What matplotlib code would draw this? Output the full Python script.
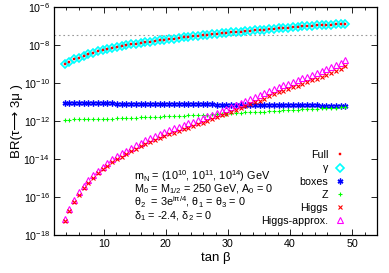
import numpy as np
import matplotlib
matplotlib.use("Agg")
import matplotlib.pyplot as plt
from matplotlib.ticker import FixedLocator, MultipleLocator, NullLocator

plt.rcParams['font.family'] = ['Liberation Sans', 'DejaVu Sans']
plt.rcParams['mathtext.default'] = 'regular'

# tan beta grid (60 points)
tan_beta = np.linspace(3.7, 48.9, 60)

# log10 of BR values
log_full = [-9.00, -8.88, -8.76, -8.66, -8.57, -8.48, -8.41, -8.34, -8.28, -8.22,
            -8.17, -8.12, -8.07, -8.02, -7.97, -7.93, -7.89, -7.86, -7.82, -7.79,
            -7.75, -7.72, -7.69, -7.66, -7.63, -7.60, -7.57, -7.54, -7.51, -7.48,
            -7.46, -7.43, -7.41, -7.38, -7.36, -7.33, -7.31, -7.29, -7.27, -7.25,
            -7.23, -7.21, -7.19, -7.17, -7.14, -7.12, -7.10, -7.08, -7.06, -7.04,
            -7.02, -7.00, -6.99, -6.97, -6.96, -6.94, -6.93, -6.91, -6.90, -6.88]
# photon penguin sits on top of the full result
log_gamma = list(log_full)
log_boxes = [-11.04, -11.04, -11.05, -11.05, -11.05, -11.06, -11.06, -11.06, -11.07, -11.07,
             -11.07, -11.08, -11.08, -11.08, -11.09, -11.09, -11.09, -11.10, -11.10, -11.10,
             -11.10, -11.11, -11.11, -11.11, -11.12, -11.12, -11.12, -11.12, -11.13, -11.13,
             -11.13, -11.13, -11.14, -11.14, -11.14, -11.14, -11.15, -11.15, -11.15, -11.15,
             -11.16, -11.16, -11.16, -11.16, -11.17, -11.17, -11.17, -11.17, -11.17, -11.18,
             -11.18, -11.18, -11.18, -11.18, -11.19, -11.19, -11.19, -11.19, -11.19, -11.20]
log_z = [-11.93, -11.93, -11.92, -11.92, -11.91, -11.91, -11.90, -11.89, -11.89, -11.88,
         -11.87, -11.86, -11.85, -11.84, -11.83, -11.82, -11.81, -11.80, -11.79, -11.78,
         -11.77, -11.76, -11.75, -11.74, -11.73, -11.72, -11.71, -11.70, -11.69, -11.67,
         -11.66, -11.65, -11.64, -11.62, -11.61, -11.60, -11.58, -11.57, -11.55, -11.54,
         -11.53, -11.51, -11.50, -11.49, -11.47, -11.46, -11.44, -11.43, -11.42, -11.40,
         -11.39, -11.38, -11.36, -11.35, -11.34, -11.32, -11.31, -11.30, -11.28, -11.27]
log_higgs = [-17.27, -16.73, -16.27, -15.87, -15.54, -15.24, -14.98, -14.75, -14.54, -14.36,
             -14.18, -14.00, -13.87, -13.73, -13.60, -13.46, -13.33, -13.21, -13.09, -12.99,
             -12.89, -12.79, -12.70, -12.61, -12.53, -12.44, -12.35, -12.27, -12.18, -12.09,
             -11.99, -11.91, -11.81, -11.71, -11.62, -11.52, -11.42, -11.32, -11.23, -11.12,
             -11.02, -10.93, -10.82, -10.70, -10.59, -10.49, -10.40, -10.31, -10.23, -10.14,
             -10.05, -9.95, -9.86, -9.77, -9.68, -9.57, -9.47, -9.37, -9.24, -9.12]
log_higgs_approx = [-17.17, -16.62, -16.16, -15.75, -15.42, -15.11, -14.85, -14.61, -14.40, -14.21,
                    -14.02, -13.84, -13.70, -13.56, -13.42, -13.28, -13.14, -13.02, -12.89, -12.79,
                    -12.68, -12.58, -12.48, -12.39, -12.30, -12.21, -12.12, -12.03, -11.94, -11.85,
                    -11.75, -11.66, -11.56, -11.46, -11.36, -11.26, -11.16, -11.06, -10.96, -10.85,
                    -10.75, -10.65, -10.54, -10.44, -10.33, -10.23, -10.13, -10.04, -9.95, -9.85,
                    -9.76, -9.66, -9.57, -9.47, -9.37, -9.27, -9.17, -9.06, -8.93, -8.80]
exp_bound = 3.3e-8

ytick_vals = [1e-18, 1e-16, 1e-14, 1e-12, 1e-10, 1e-8, 1e-6]
ytick_labels = ['10$^{-18}$', '10$^{-16}$', '10$^{-14}$', '10$^{-12}$', '10$^{-10}$', '10$^{-8}$', '10$^{-6}$']
info_lines = ['m$_N$ = (10$^{10}$, 10$^{11}$, 10$^{14}$) GeV',
              'M$_0$ = M$_{1/2}$ = 250 GeV, A$_0$ = 0',
              'θ$_2$  = 3e$^{iπ/4}$, θ$_1$ = θ$_3$ = 0',
              'δ$_1$ = -2.4, δ$_2$ = 0']

fig = plt.figure(figsize=(3.89, 2.73), dpi=100)
ax = fig.add_axes([54 / 389, 1 - 235 / 273, 323 / 389, 228 / 273])

def br(v):
    return 10 ** np.array(v)

ax.axhline(exp_bound, color='#999999', lw=0.8, ls=(0, (1.5, 2.5)))

ax.plot(tan_beta, br(log_gamma), ls='none', marker='D', ms=3.6, mfc='none', mec='#00ffff', mew=1.2, label='γ', zorder=2)
ax.plot(tan_beta, br(log_boxes), ls='none', marker=(6, 2, 0), ms=4.2, mec='#0000ff', mew=1.0, label='boxes', zorder=3)
ax.plot(tan_beta, br(log_z), ls='none', marker='+', ms=3.2, mec='#00ff00', mew=0.8, label='Z', zorder=3)
ax.plot(tan_beta, br(log_higgs_approx), ls='none', marker='^', ms=4.0, mfc='none', mec='#ff00ff', mew=0.8, label='Higgs-approx.', zorder=3)
ax.plot(tan_beta, br(log_higgs), ls='none', marker='x', ms=2.6, mec='#ff0000', mew=0.8, label='Higgs', zorder=4)
ax.plot(tan_beta, br(log_full), ls='none', marker='s', ms=2.0, mfc='#ff0000', mec='#ff0000', mew=0.3, label='Full', zorder=5)

ax.set_yscale('log')
ax.set_xlim(2, 54)
ax.set_ylim(1e-18, 1e-6)
ax.yaxis.set_major_locator(FixedLocator(ytick_vals))
ax.yaxis.set_minor_locator(NullLocator())
ax.set_yticks(ytick_vals, ytick_labels)
ax.xaxis.set_major_locator(FixedLocator([10, 20, 30, 40, 50]))
ax.xaxis.set_minor_locator(MultipleLocator(2))
ax.tick_params(which='both', direction='in', top=True, right=True, labelsize=7.7, width=0.6, pad=3)
ax.tick_params(which='major', length=4)
ax.tick_params(which='minor', length=2)
for s in ax.spines.values():
    s.set_linewidth(0.9)

ax.set_xlabel('tan β', fontsize=9.5, labelpad=2)
ax.set_ylabel('BR(τ⟶ 3μ )', fontsize=9.5)
ax.yaxis.set_label_coords(-0.097, 0.5)

for i, line in enumerate(info_lines):
    ax.text(0.2477, 0.258 - i * 0.058, line, transform=ax.transAxes, fontsize=7.8, va='center', ha='left')

handles, labels = ax.get_legend_handles_labels()
order = ['Full', 'γ', 'boxes', 'Z', 'Higgs', 'Higgs-approx.']
h = [handles[labels.index(k)] for k in order]
ax.legend(h, order, loc='lower right', bbox_to_anchor=(0.915, 0.02), markerfirst=False, frameon=False,
          fontsize=7.7, handlelength=1.0, handletextpad=0.6, labelspacing=0.3, borderaxespad=0)

fig.savefig('out.png', dpi=100)
